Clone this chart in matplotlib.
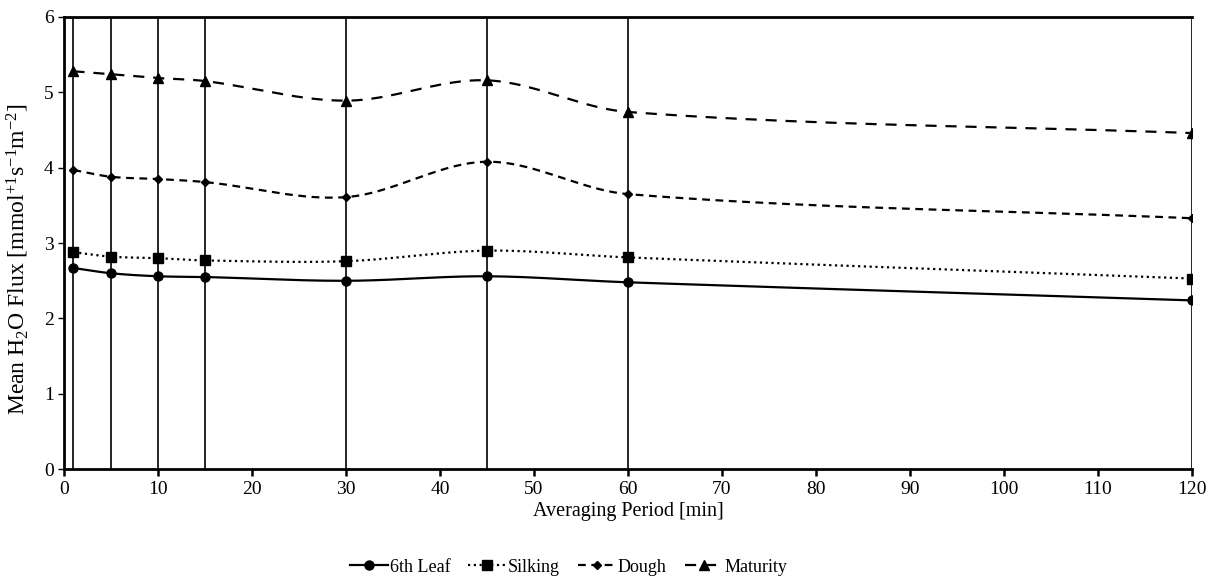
import numpy as np
import matplotlib.pyplot as plt
from matplotlib.lines import Line2D

plt.rcParams['font.family'] = 'Liberation Serif'
plt.rcParams['mathtext.fontset'] = 'custom'
plt.rcParams['mathtext.rm'] = 'Liberation Serif'
plt.rcParams['mathtext.it'] = 'Liberation Serif:italic'

period = [1, 5, 10, 15, 30, 45, 60, 120]
leaf6 = [2.67, 2.60, 2.56, 2.55, 2.50, 2.56, 2.48, 2.24]
silking = [2.88, 2.82, 2.80, 2.77, 2.76, 2.90, 2.81, 2.53]
dough = [3.97, 3.88, 3.85, 3.81, 3.61, 4.08, 3.65, 3.33]
maturity = [5.28, 5.24, 5.19, 5.15, 4.89, 5.16, 4.74, 4.46]
# spread of the 6th Leaf values (runs off both ends of the axis)
leaf6_err = [8, 8, 8, 8, 8, 8, 8, 8]


def smooth(x, y, n=40):
    # cubic hermite through the points, slopes from the neighbours
    x = np.asarray(x, float)
    y = np.asarray(y, float)
    m = np.empty_like(y)
    m[1:-1] = (y[2:] - y[:-2]) / (x[2:] - x[:-2])
    m[0] = (y[1] - y[0]) / (x[1] - x[0])
    m[-1] = (y[-1] - y[-2]) / (x[-1] - x[-2])
    xs, ys = [], []
    t = np.linspace(0, 1, n)
    for i in range(len(x) - 1):
        h = x[i + 1] - x[i]
        h00 = 2 * t ** 3 - 3 * t ** 2 + 1
        h10 = t ** 3 - 2 * t ** 2 + t
        h01 = -2 * t ** 3 + 3 * t ** 2
        h11 = t ** 3 - t ** 2
        xs.extend(x[i] + t * h)
        ys.extend(h00 * y[i] + h10 * h * m[i] + h01 * y[i + 1] + h11 * h * m[i + 1])
    return np.array(xs), np.array(ys)


fig = plt.figure(figsize=(12.15, 5.8), dpi=100)
ax = fig.add_axes([0.0527, 0.191, 0.9283, 0.7797])

series = [
    ('6th Leaf', leaf6, 'o', 6.5, '-'),
    ('Silking', silking, 's', 6.5, (0, (1, 1.6))),
    ('Dough', dough, 'D', 4.5, (0, (3.5, 2.5))),
    ('Maturity', maturity, '^', 6.5, (0, (5, 4))),
]

handles = []
for name, vals, mk, ms, ls in series:
    sx, sy = smooth(period, vals)
    ax.plot(sx, sy, color='black', lw=1.6, linestyle=ls)
    ax.plot(period, vals, linestyle='none', marker=mk, ms=ms, color='black')
    handles.append(Line2D([], [], color='black', lw=1.6, linestyle=ls,
                          marker=mk, ms=ms, label=name))

ax.errorbar(period, leaf6, yerr=leaf6_err, fmt='none', ecolor='black',
            elinewidth=1.2, capsize=0)

ax.set_xlim(0, 120)
ax.set_ylim(0, 6)
ax.set_xticks(np.arange(0, 121, 10))
ax.set_yticks(np.arange(0, 7, 1))
ax.tick_params(labelsize=14, width=1.8, length=5, direction='out')
ax.tick_params(axis='y', length=4, width=1)
for s in ['left', 'bottom', 'top']:
    ax.spines[s].set_linewidth(2)
ax.spines['right'].set_visible(False)

ax.set_xlabel('Averaging Period [min]', fontsize=14.5, labelpad=3)
ax.set_ylabel(r'Mean H$_2$O Flux [mmol$^{+1}$s$^{-1}$m$^{-2}$]', fontsize=17)
ax.yaxis.set_label_coords(-0.029, 0.465)

fig.legend(handles=handles, loc='center', bbox_to_anchor=(0.468, 0.022), ncol=4,
           frameon=False, fontsize=13, handlelength=2.1, columnspacing=1.0,
           handletextpad=0.1)

fig.savefig('out.png', dpi=100)
